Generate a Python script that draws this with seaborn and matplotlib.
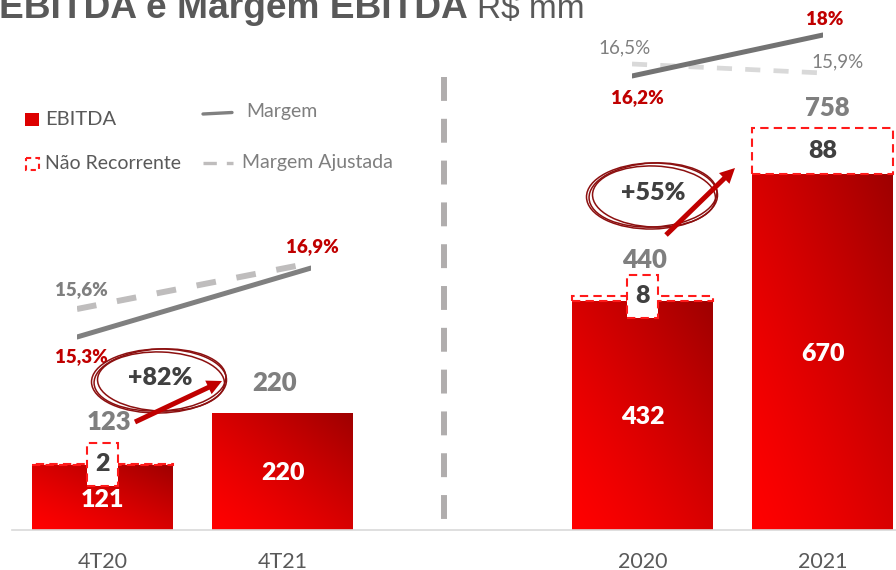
import numpy as np
import pandas as pd
import matplotlib
matplotlib.use("Agg")
import matplotlib.pyplot as plt
import seaborn as sns
from matplotlib.patches import Rectangle, Ellipse, FancyArrow

# ---------------- data ----------------
periods = ["4T20", "4T21", "2020", "2021"]
ebitda = [121, 220, 432, 670]
nao_recorrente = [2, 0, 8, 88]
ebitda_total = [123, 220, 440, 758]

margem_trim = [15.3, 16.9]            # 4T20, 4T21
margem_aj_trim = [15.6, 16.9]
margem_ano = [16.2, 18.0]             # 2020, 2021
margem_aj_ano = [16.5, 15.9]
margem_trim_labels = ["15,3%", "16,9%"]
margem_aj_trim_labels = ["15,6%", ""]
margem_ano_labels = ["16,2%", "18%"]
margem_aj_ano_labels = ["16,5%", "15,9%"]

growth_labels = ["+82%", "+55%"]

# ---------------- style ----------------
sns.set_theme(style="white")
plt.rcParams["font.family"] = ["Lato", "DejaVu Sans"]

W, H = 896, 570
fig = plt.figure(figsize=(W / 100, H / 100), dpi=100)

RED_TXT = "#c00000"
GRAY_TXT = "#7f7f7f"
DARK_TXT = "#404040"
AXIS_TXT = "#595959"
HEAVY = "heavy"

x_pos = [0, 1, 3, 4]
base_px = 529.5
ppu = 0.530
ax = fig.add_axes([0, (H - base_px) / H, 1, base_px / H])

df = pd.DataFrame({"pos": x_pos, "ebitda": ebitda})
sns.barplot(data=df, x="pos", y="ebitda", native_scale=True, width=0.778,
            color="#e00000", saturation=1, errorbar=None, linewidth=0, ax=ax)
bar_patches = list(ax.patches)

XL = (-102.5 / 180, (W - 102.5) / 180)
YL = (0, base_px / ppu)


def gradient_img(n=80):
    u = np.linspace(0, 1, n)
    U, V = np.meshgrid(u, u)
    t = ((U + V) / 2) ** 1.3
    bright = np.array([1.0, 0.0, 0.0])
    dark = np.array([0.62, 0.0, 0.0])
    return bright * (1 - t[..., None]) + dark * t[..., None]


img = gradient_img()
for p in bar_patches:
    x0, y0 = p.get_x(), p.get_y()
    w, h = p.get_width(), p.get_height()
    im = ax.imshow(img, extent=[x0, x0 + w, y0, y0 + h], origin="lower",
                   aspect="auto", interpolation="bilinear", zorder=2)
    im.set_clip_path(p)

# non-recurring segments (stacked)
bw = bar_patches[0].get_width()
for xp, e, nr in zip(x_pos, ebitda, nao_recorrente):
    if nr > 0:
        ax.bar(xp, nr, bottom=e, width=bw, facecolor="white", edgecolor="#ff1a1a",
               linewidth=1.5, linestyle=(0, (4, 2.5)), zorder=3)

ax.set_xlim(*XL)
ax.set_ylim(*YL)
ax.set_xlabel("")
ax.set_ylabel("")

# value labels
inside_off = [(0, -3), (0, -2), (0, -2), (0, -2)]
for xp, e, off in zip(x_pos, ebitda, inside_off):
    ax.annotate(f"{e}", (xp, e / 2), xytext=off, textcoords="offset pixels",
                ha="center", va="center", color="white", fontsize=18,
                fontweight=HEAVY, zorder=6)

total_off = [(6, 42), (-8, 30), (2, 36), (5, 20)]
for xp, tot, off in zip(x_pos, ebitda_total, total_off):
    ax.annotate(f"{tot}", (xp, tot), xytext=off, textcoords="offset pixels",
                ha="center", va="center", color=GRAY_TXT, fontsize=18.5,
                fontweight=HEAVY, zorder=6)

for xp, e, nr in zip(x_pos, ebitda, nao_recorrente):
    if nr == 0:
        continue
    if nr * ppu > 30:
        ax.text(xp, e + nr / 2, f"{nr}", ha="center", va="center", color=DARK_TXT,
                fontsize=18, fontweight=HEAVY, zorder=6)
    else:
        bwid, bhei = 0.175, 82
        ax.add_patch(Rectangle((xp - bwid / 2, e + nr - bhei / 2), bwid, bhei,
                               facecolor="white", edgecolor="#ff1a1a", linewidth=1.5,
                               linestyle=(0, (4, 2.5)), zorder=4))
        ax.text(xp, e + nr, f"{nr}", ha="center", va="center", color=DARK_TXT,
                fontsize=18, fontweight=HEAVY, zorder=6)

ax.set_xticks(x_pos)
ax.set_xticklabels(periods)
ax.tick_params(axis="x", length=0, pad=16, labelsize=15.5, labelcolor=AXIS_TXT)
ax.set_yticks([])
for s in ["top", "right", "left"]:
    ax.spines[s].set_visible(False)
ax.spines["bottom"].set_color("#d9d9d9")
ax.spines["bottom"].set_linewidth(1.2)
ax.spines["bottom"].set_bounds((12 - 102.5) / 180, XL[1])
ax.patch.set_alpha(0)


# ---------------- margin lines ----------------
def px_axes(x0, x1, ytop, ybot):
    a = fig.add_axes([x0 / W, (H - ybot) / H, (x1 - x0) / W, (ybot - ytop) / H])
    a.set_xlim(0, 1)
    a.axis("off")
    a.patch.set_alpha(0)
    return a


def margin_series(box, vals, ylim, color, lw, dashed, labels, offs, lab_colors, weights):
    a = px_axes(*box)
    kw = dict(color=color, linewidth=lw)
    if dashed:
        kw["linestyle"] = dashed
        kw["dash_capstyle"] = "butt"
    else:
        kw["solid_capstyle"] = "round"
    sns.lineplot(x=[0, 1], y=vals, ax=a, **kw)
    a.set_ylim(*ylim)
    a.set_xlim(0, 1)
    a.axis("off")
    for i, (v, lab) in enumerate(zip(vals, labels)):
        if lab:
            a.annotate(lab, (i, v), xytext=offs[i], textcoords="offset pixels",
                       ha="center", va="center", color=lab_colors[i], fontsize=13.5,
                       fontweight=weights[i], annotation_clip=False)


left_box = (77, 311, 240, 360)
right_box = (632, 823, 20, 110)
margin_series(left_box, margem_aj_trim, (14.159, 17.55), "#bfbdbd", 4.3, (0, (3.3, 3.5)),
              margem_aj_trim_labels, [(4, 19), (0, 0)], [GRAY_TXT, GRAY_TXT], [HEAVY, HEAVY])
margin_series(left_box, margem_trim, (14.767, 17.55), "#808080", 3.6, None,
              margem_trim_labels, [(4, -20), (1, 21)], [RED_TXT, RED_TXT], [HEAVY, HEAVY])
margin_series(right_box, margem_aj_ano, (13.433, 19.433), "#d9d9d9", 3.4, (0, (3.2, 2.8)),
              margem_aj_ano_labels, [(-7, 16), (15, 11)], [GRAY_TXT, GRAY_TXT], ["normal", "normal"])
margin_series(right_box, margem_ano, (14.707, 18.658), "#737373", 3.6, None,
              margem_ano_labels, [(5, -22), (2, 15)], [RED_TXT, RED_TXT], [HEAVY, HEAVY])

# ---------------- overlay (pixel coords) ----------------
ov = fig.add_axes([0, 0, 1, 1])
ov.set_xlim(0, W)
ov.set_ylim(H, 0)
ov.axis("off")
ov.patch.set_alpha(0)

# title
t1 = ov.text(-1, 18.3, "EBITDA e Margem EBITDA", fontsize=26.7, fontweight="bold",
             family=["Liberation Sans", "DejaVu Sans"], color=AXIS_TXT, va="baseline", ha="left")
fig.canvas.draw()
bb = t1.get_window_extent()
ov.text(bb.x1 + 9, 18.3, "R$ mm", fontsize=24, family=["Liberation Sans", "DejaVu Sans"],
        color=AXIS_TXT, va="baseline", ha="left")

# divider
ov.plot([444, 444], [77, 521], color="#b0adad", linewidth=4.3,
        linestyle=(0, (4, 3)), dash_capstyle="butt")

# legend
ov.add_patch(Rectangle((25, 113), 14, 13, facecolor="#dd0000", edgecolor="none"))
ov.text(45, 119.5, "EBITDA", fontsize=14.5, color=AXIS_TXT, va="center", ha="left")
ov.add_patch(Rectangle((25.5, 158), 13, 12, facecolor="none", edgecolor="#ff1a1a",
                       linewidth=1.5, linestyle=(0, (2.5, 2))))
ov.text(45, 163.5, "Não Recorrente", fontsize=14, color=AXIS_TXT, va="center", ha="left")
ov.plot([203, 232], [114, 112.5], color="#808080", linewidth=2.4)
ov.text(246, 111, "Margem", fontsize=14, color=GRAY_TXT, va="center", ha="left")
ov.plot([203, 233], [163, 163], color="#bfbdbd", linewidth=2.4, linestyle=(0, (4, 3)))
ov.text(242, 162.5, "Margem Ajustada", fontsize=14, color=GRAY_TXT, va="center", ha="left")

# growth callouts
ELL_C = "#8c1010"
for (cx, cy, ew, eh), lab in zip([(160, 380, 132, 62), (653, 195, 128, 64)], growth_labels):
    for dx, dy, dw, dh, ang in [(0, 0, 0, 0, -3), (1, 1.5, -5, -3, 2), (-1, 1, 3, 2, -1)]:
        ov.add_patch(Ellipse((cx + dx, cy + dy), ew + dw, eh + dh, angle=ang,
                             facecolor="none", edgecolor=ELL_C, linewidth=1.1))
    ov.text(cx, cy - 2, lab, fontsize=18, fontweight=HEAVY, color=DARK_TXT,
            ha="center", va="center")

for (x0, y0, x1, y1) in [(135, 422, 222, 381), (666, 235, 735, 168)]:
    ov.add_patch(FancyArrow(x0, y0, x1 - x0, y1 - y0, width=5, head_width=15,
                            head_length=15, length_includes_head=True,
                            color="#c00000", linewidth=0))

fig.savefig("out.png", dpi=100)
